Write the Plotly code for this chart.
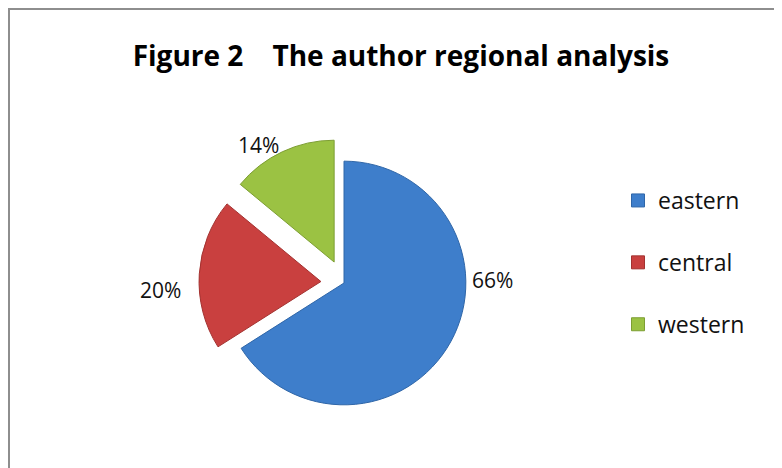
import plotly.graph_objects as go

# data
regions = ["eastern", "central", "western"]
shares = [66, 20, 14]
pulls = [0, 0.19, 0.19]
colors = ["#3e7ecb", "#c9403f", "#9bc243"]
edge_colors = ["#2f66a8", "#a33230", "#7d9e33"]

# where the percentage labels sit (Excel "best fit" style), in px from top-left
label_pos = [(485, 272), (152, 282), (250, 137)]

W, H = 782, 468
FONT = "Open Sans"


def px(x, y):
    return x / W, 1 - y / H


fig = go.Figure()
fig.add_trace(go.Pie(
    labels=regions, values=shares, pull=pulls,
    sort=False, direction="clockwise", rotation=0,
    marker=dict(colors=colors, line=dict(color=edge_colors, width=1)),
    textinfo="none",
    showlegend=False, domain=dict(x=[191 / W, 481 / W], y=[48 / H, 338 / H]),
))

for v, (lx, ly) in zip(shares, label_pos):
    ax, ay = px(lx, ly)
    fig.add_annotation(x=ax, y=ay, xref="paper", yref="paper", text=f"{v}%",
                       showarrow=False, xanchor="center", yanchor="middle",
                       font=dict(family=FONT, size=21, color="#111111"))

# legend entries as empty marker traces so the gap between items can be set
for name, c, ec in zip(regions, colors, edge_colors):
    fig.add_trace(go.Scatter(
        x=[None], y=[None], mode="markers", name=name, legendgroup=name,
        marker=dict(symbol="square", size=13, color=c, line=dict(color=ec, width=1)),
    ))

# chart frame: only the top and left edges are inside the window
fig.add_shape(type="rect", xref="paper", yref="paper",
              x0=1 / W, x1=1.05, y0=-0.05, y1=1 - 1 / H,
              line=dict(color="#8e8e8e", width=2), fillcolor="rgba(0,0,0,0)")

fig.update_layout(
    width=W, height=H,
    margin=dict(l=0, r=0, t=0, b=0),
    paper_bgcolor="white", plot_bgcolor="white",
    title=dict(text="<b>Figure 2\u00a0\u00a0\u00a0\u00a0The author regional analysis</b>",
               x=393 / W, xanchor="center", y=1 - 48 / H, yanchor="middle",
               font=dict(family=FONT, size=28, color="#000000")),
    xaxis=dict(visible=False), yaxis=dict(visible=False),
    legend=dict(x=610 / W, xanchor="left", y=1 - 171 / H, yanchor="top",
                traceorder="grouped", tracegroupgap=29,
                font=dict(family=FONT, size=23, color="#111111"),
                bgcolor="rgba(0,0,0,0)"),
    hovermode=False,
)

fig.write_html("out.html")
